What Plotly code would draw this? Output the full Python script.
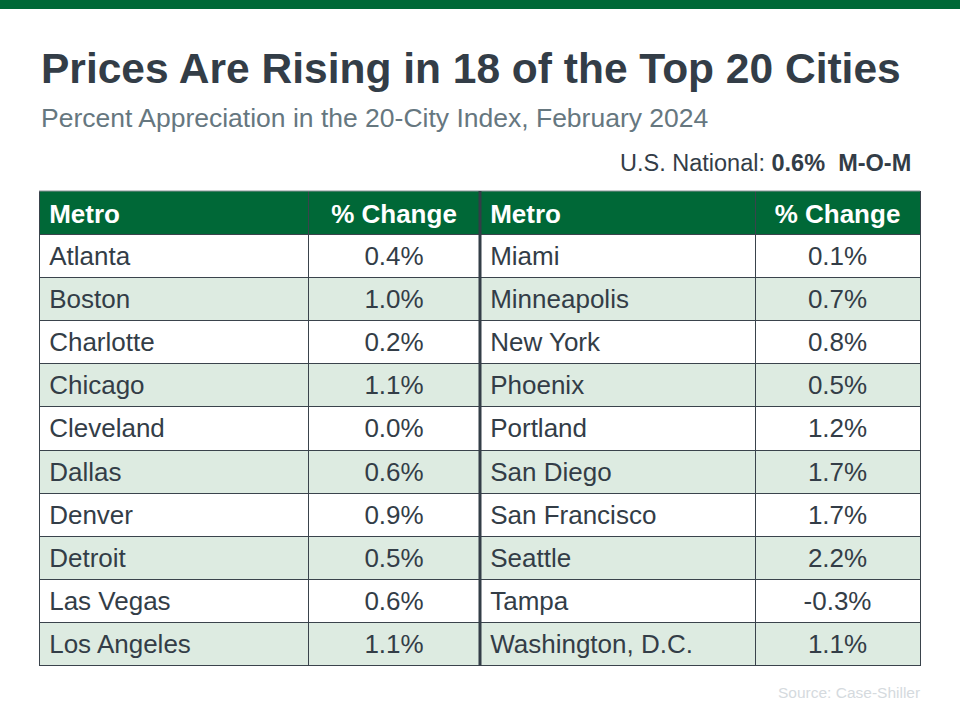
import plotly.graph_objects as go

title = "Prices Are Rising in 18 of the Top 20 Cities"
subtitle = "Percent Appreciation in the 20-City Index, February 2024"
national_value = "0.6%"
source = "Source: Case-Shiller"

headers = ["Metro", "% Change", "Metro", "% Change"]
metros_left = ["Atlanta", "Boston", "Charlotte", "Chicago", "Cleveland", "Dallas",
               "Denver", "Detroit", "Las Vegas", "Los Angeles"]
change_left = [0.4, 1.0, 0.2, 1.1, 0.0, 0.6, 0.9, 0.5, 0.6, 1.1]
metros_right = ["Miami", "Minneapolis", "New York", "Phoenix", "Portland", "San Diego",
                "San Francisco", "Seattle", "Tampa", "Washington, D.C."]
change_right = [0.1, 0.7, 0.8, 0.5, 1.2, 1.7, 1.7, 2.2, -0.3, 1.1]

GREEN = "#006837"
LIGHT = "#DDEBE1"
TEXT = "#333D47"
LINE = "#3A434C"
FONT = "Liberation Sans, Arial, sans-serif"
W, H = 960, 720
PAD = "\u200a"

row_fill = ["white" if i % 2 == 0 else LIGHT for i in range(len(metros_left))]

x0, x1 = 39 / W, 920 / W
top = 1 - 188 / H

fig = go.Figure()
fig.add_trace(go.Table(
    domain=dict(x=[x0, x1], y=[0.0, top]),
    columnwidth=[269, 172, 275, 165],
    header=dict(
        values=[f"{PAD}<b>{headers[0]}</b>", f"<b>{headers[1]}</b>",
                f"{PAD}<b>{headers[2]}</b>", f"<b>{headers[3]}</b>"],
        fill_color=GREEN,
        line=dict(color=LINE, width=1),
        align=["left", "center", "left", "center"],
        font=dict(family=FONT, size=26, color="white"),
        height=43,
    ),
    cells=dict(
        values=[[PAD + m for m in metros_left], [f"{v:.1f}%" for v in change_left],
                [PAD + m for m in metros_right], [f"{v:.1f}%" for v in change_right]],
        fill_color=[row_fill] * 4,
        line=dict(color=LINE, width=1),
        align=["left", "center", "left", "center"],
        font=dict(family=FONT, size=26, color=TEXT),
        height=43.2,
    ),
))

# trim header top so it starts at y=191
fig.add_shape(type="rect", xref="paper", yref="paper",
              x0=x0 - 0.003, x1=x1 + 0.003, y0=1 - 191 / H, y1=1 - 185 / H,
              fillcolor="white", line=dict(width=0))
fig.add_shape(type="line", xref="paper", yref="paper",
              x0=x0, x1=x1, y0=1 - 191 / H, y1=1 - 191 / H,
              line=dict(color="#8A9096", width=1))
# thick divider between the two halves
fig.add_shape(type="line", xref="paper", yref="paper",
              x0=480 / W, x1=480 / W, y0=1 - 191 / H, y1=1 - 666 / H,
              line=dict(color="#333D47", width=3))
# top green bar
fig.add_shape(type="rect", xref="paper", yref="paper",
              x0=0, x1=1, y0=1 - 9 / H, y1=1, fillcolor=GREEN, line=dict(width=0))

fig.add_annotation(x=39 / W, y=1 - 68 / H, xref="paper", yref="paper",
                   text=f"<b>{title}</b>", showarrow=False, xanchor="left", yanchor="middle",
                   font=dict(family=FONT, size=42.5, color=TEXT))
fig.add_annotation(x=39 / W, y=1 - 118 / H, xref="paper", yref="paper",
                   text=subtitle, showarrow=False, xanchor="left", yanchor="middle",
                   font=dict(family=FONT, size=26.5, color="#66777F"))
fig.add_annotation(x=913 / W, y=1 - 163 / H, xref="paper", yref="paper",
                   text=f"U.S. National: <b>{national_value}  M-O-M</b>", showarrow=False,
                   xanchor="right", yanchor="middle",
                   font=dict(family=FONT, size=23.5, color=TEXT))
fig.add_annotation(x=922 / W, y=1 - 692 / H, xref="paper", yref="paper",
                   text=source, showarrow=False, xanchor="right", yanchor="middle",
                   font=dict(family=FONT, size=15.5, color="#D5DADE"))

fig.update_layout(width=W, height=H, margin=dict(l=0, r=0, t=0, b=0),
                  paper_bgcolor="white", plot_bgcolor="white")
post = (
    "document.body.style.margin='0px';"
    "var s=document.createElement('style');"
    "s.textContent='.cell-text{transform:translateY(3px);}';"
    "document.head.appendChild(s);"
)
fig.write_html("out.html", config={"displayModeBar": False}, post_script=post)
